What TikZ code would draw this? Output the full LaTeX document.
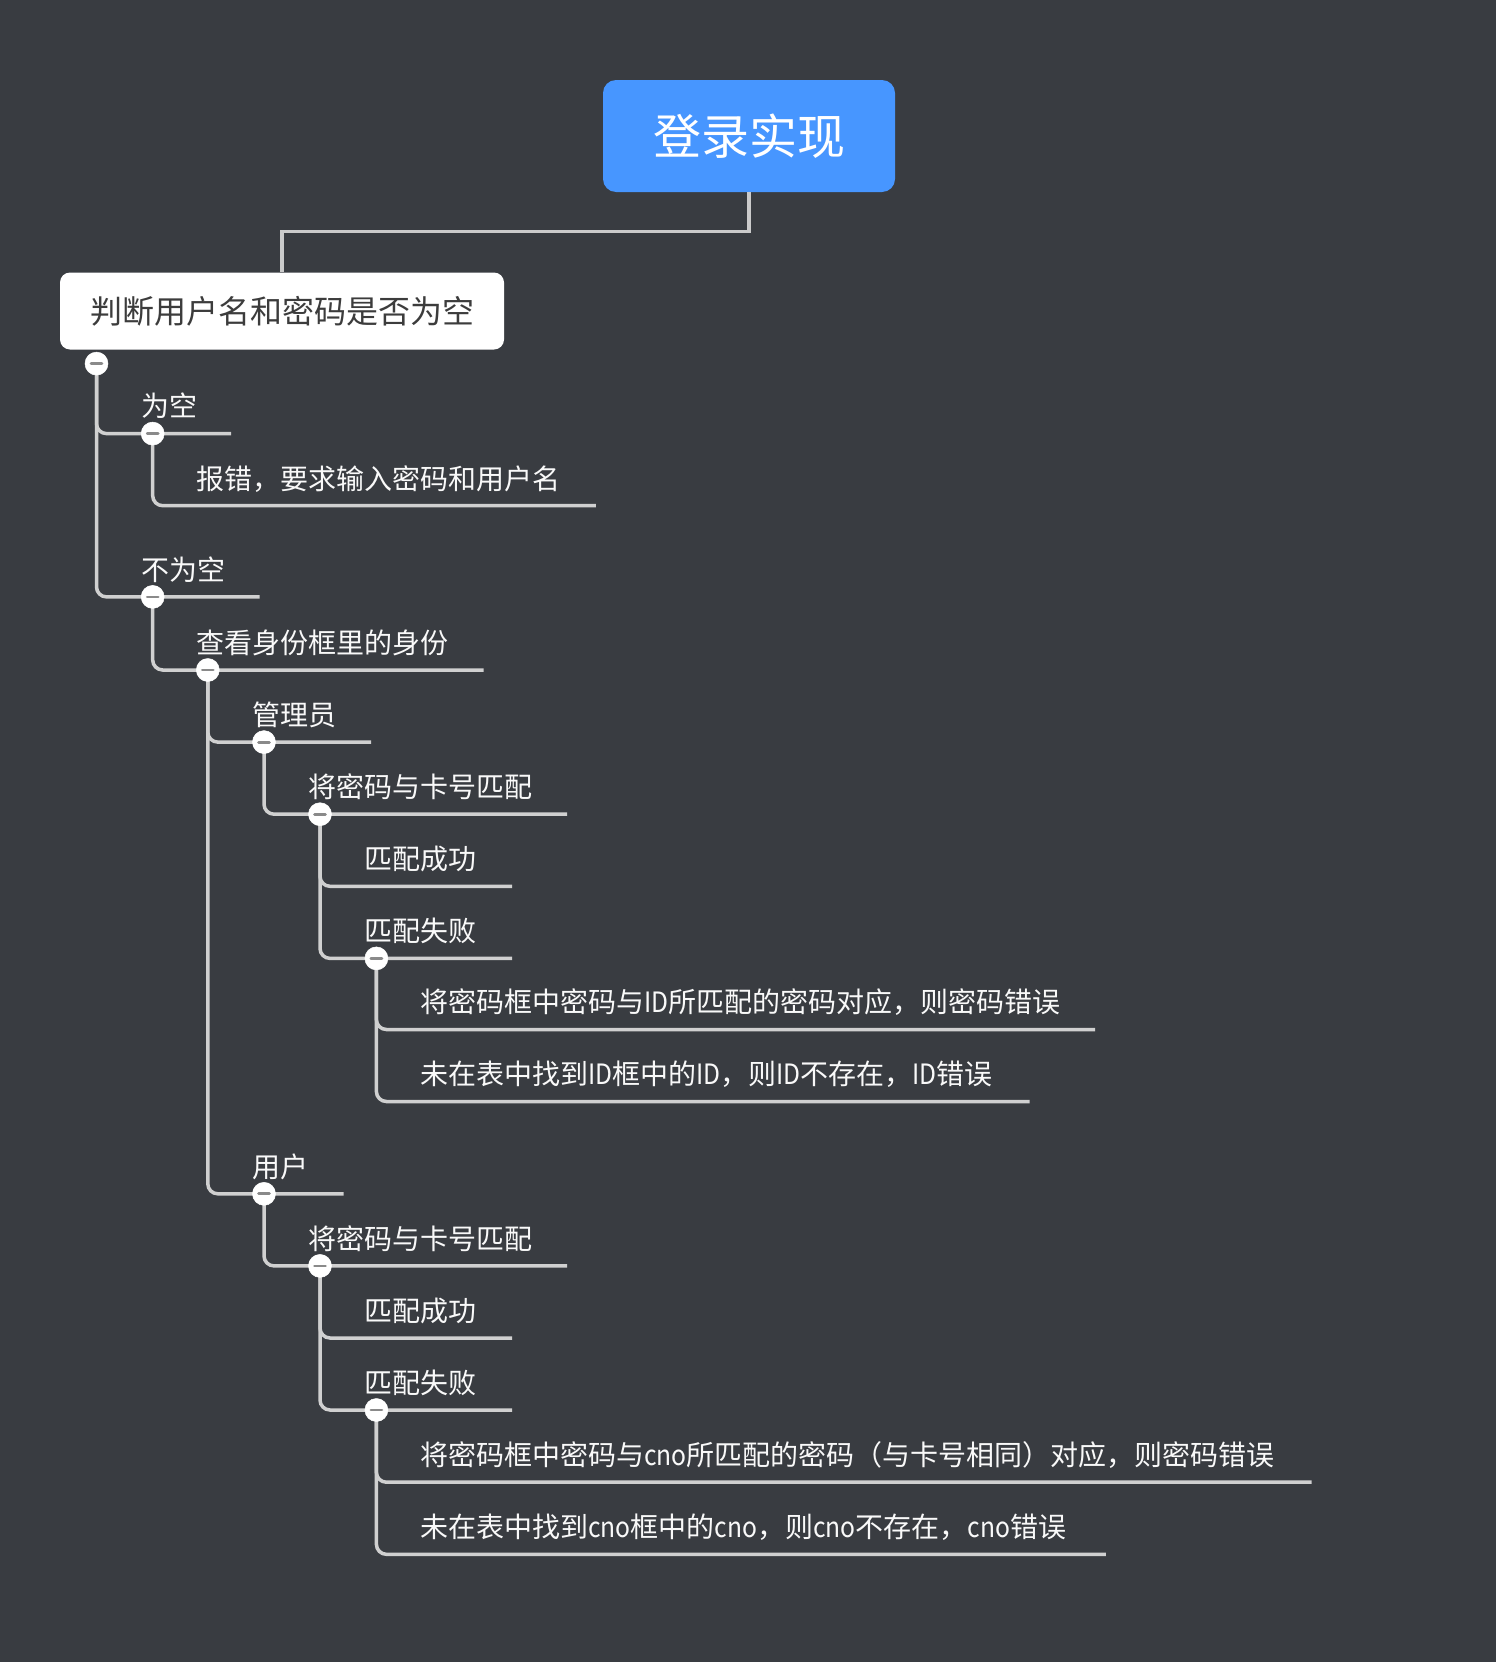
\documentclass[tikz,border=0pt]{standalone}
\usepackage{fontspec}
\setmainfont{Noto Sans CJK SC}
\definecolor{bg}{RGB}{57,60,65}
\definecolor{rootblue}{RGB}{71,150,255}
\definecolor{linegray}{RGB}{208,208,208}
\definecolor{minusgray}{RGB}{138,138,138}
\definecolor{boxtext}{RGB}{60,60,60}
\newcommand\latn[1]{\scalebox{0.88}[1]{#1}}
\begin{document}
\begin{tikzpicture}[x=1pt,y=-1pt,
  conn/.style={draw=linegray,line width=3.5pt,rounded corners=10pt},
  rootconn/.style={draw=linegray!110!white,line width=3.5pt},
  rootbox/.style={fill=rootblue,rounded corners=13pt,minimum width=292pt,minimum height=112pt,inner sep=0pt,text=white,font=\fontsize{48}{58}\selectfont},
  mainbox/.style={fill=white,rounded corners=10pt,minimum width=444pt,minimum height=77pt,inner sep=0pt,text=boxtext,font=\fontsize{32}{38}\selectfont},
  label/.style={anchor=base west,inner sep=0pt,text=white!95!gray,font=\fontsize{28}{34}\selectfont},
  dot/.style={circle,fill=white,draw=white,line width=0.5pt,minimum size=23pt,inner sep=0pt,
    path picture={\draw[minusgray,line width=2.8pt,line cap=round]
      ([xshift=-5.5pt]path picture bounding box.center) -- ([xshift=5.5pt]path picture bounding box.center);}}
]
\fill[bg] (0,0) rectangle (1496,1662);
\useasboundingbox (0,0) rectangle (1496,1662);

% main nodes
\node[rootbox] (root) at (749,136) {登录实现};
\node[mainbox] (judge) at (282,311) {判断用户名和密码是否为空};
\coordinate (rm) at (282,231.7);
\draw[rootconn] (root.south) |- (rm) -- (judge.north);

% circle centres
\coordinate (c0) at (96.5,363.6);
\coordinate (c1) at (152.7,433.6);
\coordinate (c3) at (152.7,596.9);
\coordinate (c4) at (207.8,670.0);
\coordinate (c5) at (264.0,742.1);
\coordinate (c6) at (320.0,814.2);
\coordinate (c8) at (376.4,958.4);
\coordinate (c11) at (264.0,1193.8);
\coordinate (c12) at (320.0,1265.9);
\coordinate (c14) at (376.4,1410.0);

% line ends
\coordinate (e1) at (231.1,433.6);
\coordinate (e2) at (595.8,505.7);
\coordinate (e3) at (259.7,596.9);
\coordinate (e4) at (483.5,670.0);
\coordinate (e5) at (371.1,742.1);
\coordinate (e6) at (567.2,814.2);
\coordinate (e7) at (512.1,886.3);
\coordinate (e8) at (512.1,958.4);
\coordinate (e9) at (1095.2,1029.5);
\coordinate (e10) at (1029.5,1101.5);
\coordinate (e11) at (343.5,1193.8);
\coordinate (e12) at (567.2,1265.9);
\coordinate (e13) at (512.1,1338.0);
\coordinate (e14) at (512.1,1410.0);
\coordinate (e15) at (1311.5,1482.2);
\coordinate (e16) at (1105.8,1554.3);

% connectors
\draw[conn] (c0) |- (e1);
\draw[conn] (c1) |- (e2);
\draw[conn] (c0) |- (e3);
\draw[conn] (c3) |- (e4);
\draw[conn] (c4) |- (e5);
\draw[conn] (c5) |- (e6);
\draw[conn] (c6) |- (e7);
\draw[conn] (c6) |- (e8);
\draw[conn] (c8) |- (e9);
\draw[conn] (c8) |- (e10);
\draw[conn] (c4) |- (e11);
\draw[conn] (c11) |- (e12);
\draw[conn] (c12) |- (e13);
\draw[conn] (c12) |- (e14);
\draw[conn] (c14) |- (e15);
\draw[conn] (c14) |- (e16);

% collapse circles
\node[dot] (d0) at (c0) {};
\node[dot] (d1) at (c1) {};
\node[dot] (d3) at (c3) {};
\node[dot] (d4) at (c4) {};
\node[dot] (d5) at (c5) {};
\node[dot] (d6) at (c6) {};
\node[dot] (d8) at (c8) {};
\node[dot] (d11) at (c11) {};
\node[dot] (d12) at (c12) {};
\node[dot] (d14) at (c14) {};

% labels
\node[label] (t1) at (141.0,416.9) {为空};
\node[label] (t2) at (196.0,489.0) {报错，要求输入密码和用户名};
\node[label] (t3) at (141.0,580.2) {不为空};
\node[label] (t4) at (196.0,653.3) {查看身份框里的身份};
\node[label] (t5) at (252.3,725.4) {管理员};
\node[label] (t6) at (308.5,797.5) {将密码与卡号匹配};
\node[label] (t7) at (364.7,869.6) {匹配成功};
\node[label] (t8) at (364.7,941.7) {匹配失败};
\node[label] (t9) at (419.8,1012.8) {将密码框中密码与\latn{ID}所匹配的密码对应，则密码错误};
\node[label] (t10) at (419.8,1084.8) {未在表中找到\latn{ID}框中的\latn{ID}，则\latn{ID}不存在，\latn{ID}错误};
\node[label] (t11) at (252.3,1177.1) {用户};
\node[label] (t12) at (308.5,1249.2) {将密码与卡号匹配};
\node[label] (t13) at (364.7,1321.3) {匹配成功};
\node[label] (t14) at (364.7,1393.3) {匹配失败};
\node[label] (t15) at (419.8,1465.5) {将密码框中密码与\latn{cno}所匹配的密码（与卡号相同）对应，则密码错误};
\node[label] (t16) at (419.8,1537.6) {未在表中找到\latn{cno}框中的\latn{cno}，则\latn{cno}不存在，\latn{cno}错误};
\end{tikzpicture}
\end{document}
